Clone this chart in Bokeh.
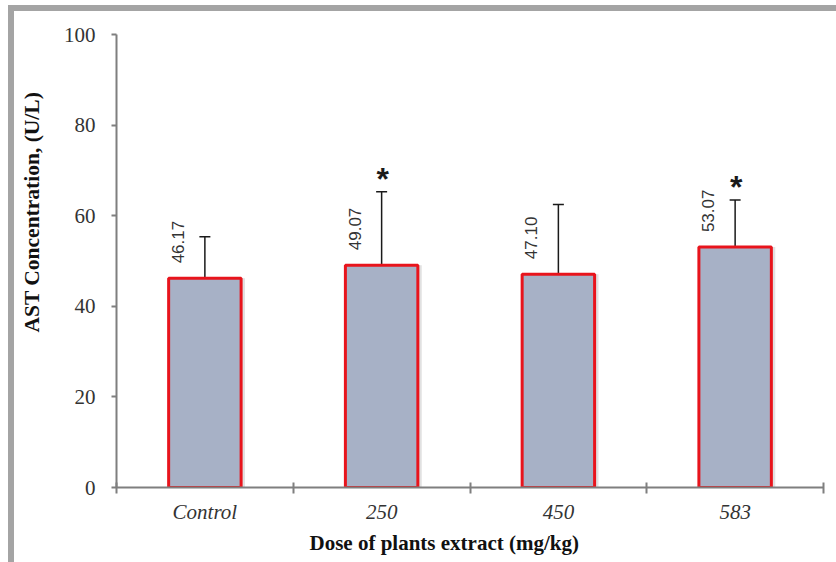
from bokeh.plotting import figure
from bokeh.models import ColumnDataSource, FixedTicker, Whisker, TeeHead, Title, Range1d
from bokeh.core.properties import value
from bokeh.embed import file_html
from bokeh.resources import INLINE

# ---- data ----
categories = ["Control", "250", "450", "583"]
means = [46.17, 49.07, 47.10, 53.07]
errors = [9.2, 16.2, 15.4, 10.4]
significant = [False, True, False, True]
y_ticks = [0, 20, 40, 60, 80, 100]

n = len(categories)
xs = [i + 0.5 for i in range(n)]
src = ColumnDataSource(dict(
    x=xs,
    top=means,
    lower=[m - e for m, e in zip(means, errors)],
    upper=[m + e for m, e in zip(means, errors)],
    label=[f"{m:.2f}" for m in means],
))
sig_src = ColumnDataSource(dict(
    x=[x for x, s in zip(xs, significant) if s],
    y=[m + e for m, e, s in zip(means, errors, significant) if s],
    t=["*" for s in significant if s],
))
shadow_src = ColumnDataSource(dict(x=[x + 0.022 for x in xs], top=means))

W, H = 836, 562
p = figure(width=W, height=H, output_backend="svg", toolbar_location=None,
           x_range=Range1d(0, n), y_range=Range1d(0, 100),
           min_border_left=113, min_border_right=13, min_border_top=34, min_border_bottom=75)
p.grid.visible = False
p.outline_line_color = None
p.background_fill_color = "white"
p.border_fill_color = None
gray = "#a4a4a4"
p.styles = {
    "background": (f"linear-gradient({gray},{gray}) 8px 5px / 6px 557px no-repeat, "
                   f"linear-gradient({gray},{gray}) 8px 5px / 828px 6px no-repeat, white"),
}

# bar shadow
p.vbar(x="x", top="top", bottom=0, width=0.41, source=shadow_src,
       fill_color="#c8c8c8", fill_alpha=0.55, line_color=None)
# bars
p.vbar(x="x", top="top", bottom=0, width=0.41, source=src,
       fill_color="#a7b1c6", line_color="#e8141c", line_width=3)

# error bars
wh = Whisker(base="x", upper="upper", lower="lower", source=src,
             line_color="#1a1a1a", line_width=1.5,
             upper_head=TeeHead(size=11, line_color="#1a1a1a", line_width=1.5),
             lower_head=TeeHead(size=11, line_color="#1a1a1a", line_width=1.5))
p.add_layout(wh)

# value labels (rotated)
p.text(x="x", y="top", text="label", source=src, angle=1.5708,
       x_offset=-27, y_offset=-15, text_align="left", text_baseline="middle",
       text_font=value("Liberation Sans"), text_font_size="17px", text_color="#333333")

# significance stars
p.text(x="x", y="y", text="t", source=sig_src, x_offset=1, y_offset=5,
       text_align="center", text_baseline="bottom",
       text_font=value("Liberation Sans"), text_font_style="bold",
       text_font_size="32px", text_color="#1a1a1a")

# axes
ax = p.xaxis[0]
ax.ticker = FixedTicker(ticks=xs, minor_ticks=list(range(n + 1)))
ax.major_label_overrides = {x: c for x, c in zip(xs, categories)}
ax.major_tick_in = 0
ax.major_tick_out = 0
ax.minor_tick_in = 5
ax.minor_tick_out = 6
ax.minor_tick_line_color = "#7f7f7f"
ax.minor_tick_line_width = 2
ax.axis_line_color = "#7f7f7f"
ax.axis_line_width = 2
ax.major_label_text_font = "Liberation Serif"
ax.major_label_text_font_style = "italic"
ax.major_label_text_font_size = "21px"
ax.major_label_text_color = "#333333"
ax.major_label_standoff = 6

ay = p.yaxis[0]
ay.ticker = FixedTicker(ticks=y_ticks)
ay.minor_tick_line_color = None
ay.major_tick_in = 0
ay.major_tick_out = 5
ay.major_tick_line_color = "#7f7f7f"
ay.major_tick_line_width = 2
ay.axis_line_color = "#7f7f7f"
ay.axis_line_width = 2
ay.major_label_text_font = "Liberation Serif"
ay.major_label_text_font_size = "21px"
ay.major_label_text_color = "#333333"
ay.major_label_standoff = 16

xt = Title(text="Dose of plants extract (mg/kg)", align="left", offset=193,
           text_font="Liberation Serif", text_font_style="bold",
           text_font_size="21px", text_color="#111111", standoff=5)
p.add_layout(xt, "below")
yt = Title(text="AST Concentration, (U/L)", align="left", offset=155,
           text_font="Liberation Serif", text_font_style="bold",
           text_font_size="21.5px", text_color="#111111", standoff=34)
p.add_layout(yt, "left")

open("out.html", "w").write(file_html(p, INLINE))
